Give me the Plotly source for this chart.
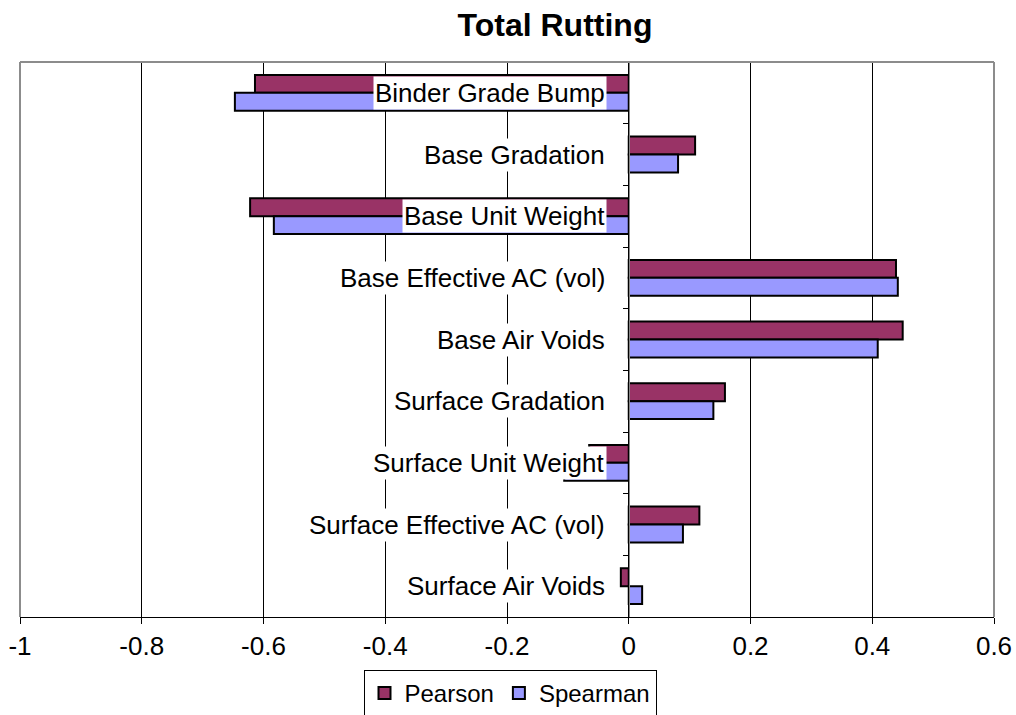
import plotly.graph_objects as go

categories = [
    "Binder Grade Bump",
    "Base Gradation",
    "Base Unit Weight",
    "Base Effective AC (vol)",
    "Base Air Voids",
    "Surface Gradation",
    "Surface Unit Weight",
    "Surface Effective AC (vol)",
    "Surface Air Voids",
]
pearson = [-0.614, 0.109, -0.622, 0.439, 0.450, 0.158, -0.065, 0.116, -0.013]
spearman = [-0.647, 0.081, -0.583, 0.442, 0.409, 0.139, -0.106, 0.089, 0.022]
x_ticks = [-1, -0.8, -0.6, -0.4, -0.2, 0, 0.2, 0.4, 0.6]
x_tick_text = ["-1", "-0.8", "-0.6", "-0.4", "-0.2", "0", "0.2", "0.4", "0.6"]

FONT = "Liberation Sans, Arial, sans-serif"

fig = go.Figure()
fig.add_trace(go.Bar(
    y=categories, x=pearson, orientation="h", name="Pearson",
    marker=dict(color="#993366", line=dict(color="black", width=2)),
))
fig.add_trace(go.Bar(
    y=categories, x=spearman, orientation="h", name="Spearman",
    marker=dict(color="#9999FF", line=dict(color="black", width=2)),
))

for c in categories:
    fig.add_annotation(
        x=0, y=c, xref="x", yref="y", text=c, showarrow=False,
        xanchor="right", yanchor="middle", xshift=-22,
        bgcolor="white", borderpad=1,
        font=dict(family=FONT, size=26, color="black"),
    )

W, H = 1016, 715
fig.update_layout(
    width=W, height=H,
    margin=dict(l=20, r=22, t=62, b=98, autoexpand=False),
    paper_bgcolor="white", plot_bgcolor="white",
    barmode="group", bargap=0.42, bargroupgap=0,
    title=dict(
        text="<b>Total Rutting</b>", x=555 / W, xanchor="center",
        xref="container", y=1 - 25 / H, yanchor="middle", yref="container",
        font=dict(family=FONT, size=32, color="black"),
    ),
    font=dict(family=FONT, size=24, color="black"),
    showlegend=True,
    legend=dict(
        orientation="h", x=510 / W, xanchor="center", xref="container",
        y=1 - 670 / H, yanchor="top", yref="container",
        bordercolor="black", borderwidth=1, bgcolor="white",
        font=dict(family=FONT, size=24, color="black"),
        itemsizing="constant", traceorder="normal", itemwidth=30,
    ),
    xaxis=dict(
        range=[-1, 0.6], tickvals=x_ticks, ticktext=x_tick_text,
        showgrid=True, gridcolor="black", gridwidth=1,
        zeroline=False, showline=True, linecolor="black", linewidth=1,
        ticks="outside", ticklen=6, tickcolor="black", tickwidth=1,
        tickfont=dict(family=FONT, size=26, color="black"),
        automargin=False, fixedrange=True,
    ),
    yaxis=dict(
        categoryorder="array", categoryarray=categories, autorange="reversed",
        anchor="free", position=0.625,
        showline=True, linecolor="#888888", linewidth=1,
        showticklabels=False, ticks="outside", ticklen=6,
        tickcolor="black", tickwidth=1, tickson="boundaries",
        showgrid=False, zeroline=False, fixedrange=True, automargin=False,
    ),
)

# plot frame (grey left/top/right)
for x0, y0, x1, y1 in [(0, 0, 0, 1), (0, 1, 1, 1), (1, 0, 1, 1)]:
    fig.add_shape(type="line", xref="paper", yref="paper",
                  x0=x0, y0=y0, x1=x1, y1=y1,
                  line=dict(color="#8c8c8c", width=2))

fig.write_html("out.html")
